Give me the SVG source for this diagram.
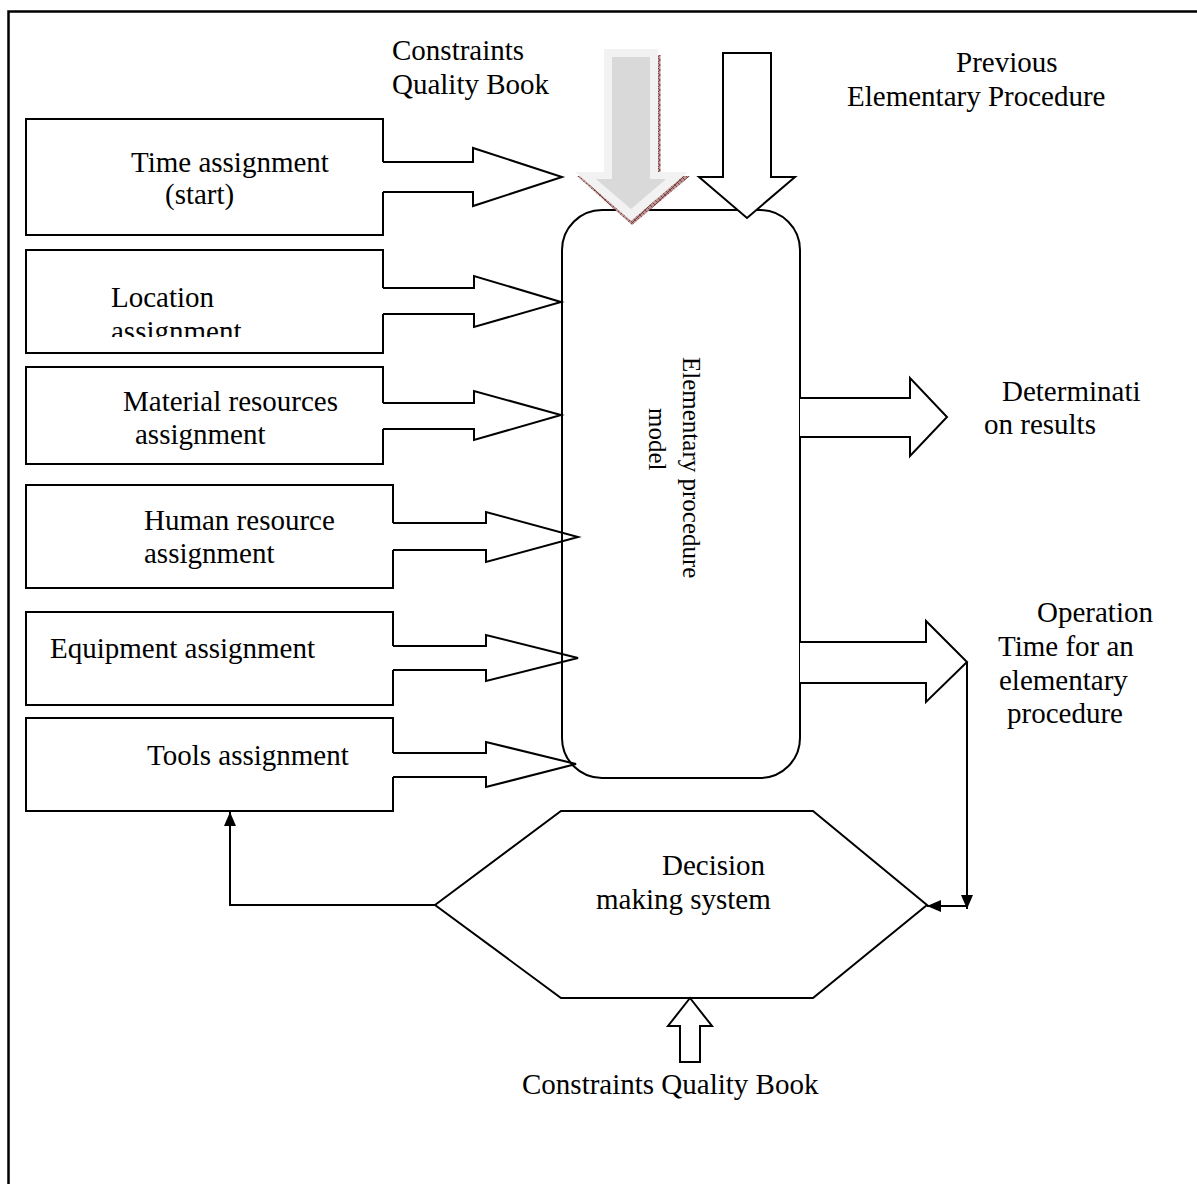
<svg xmlns="http://www.w3.org/2000/svg" width="1197" height="1184" viewBox="0 0 1197 1184">
<style>
  .t { font-family: "Liberation Serif", "Times New Roman", serif; font-size: 29px; fill: #000; }
  .tr { font-family: "Liberation Serif", "Times New Roman", serif; font-size: 25px; fill: #000; }
  .box { fill: #fff; stroke: #000; stroke-width: 2; }
  .arr { fill: none; stroke: #000; stroke-width: 2; stroke-linejoin: miter; }
  .warr { fill: #fff; stroke: #000; stroke-width: 2; }
  .ln { fill: none; stroke: #000; stroke-width: 2; }
</style>
<defs>
  <marker id="ah" viewBox="0 0 14 12" refX="14" refY="6" markerWidth="14" markerHeight="12" markerUnits="userSpaceOnUse" orient="auto">
    <path d="M0,0 L14,6 L0,12 Z" fill="#000"/>
  </marker>
  <pattern id="hatch" width="5" height="5" patternUnits="userSpaceOnUse">
    <rect width="5" height="5" fill="#b99292"/>
    <path d="M0,0 L5,5 M5,0 L0,5" stroke="#6e2e2e" stroke-width="0.8"/>
  </pattern>
  <clipPath id="clipLoc">
    <rect x="26" y="250" width="357" height="87"/>
  </clipPath>
</defs>
<rect width="1197" height="1184" fill="#fff"/>
<path d="M8.5,1184 V11.5 H1197" fill="none" stroke="#000" stroke-width="2.5"/>

<g id="model">
  <rect x="562" y="210" width="238" height="568" rx="40" ry="40" fill="#fff" stroke="#000" stroke-width="2"/>
  <text class="tr" transform="translate(683,357) rotate(90)">Elementary procedure</text>
  <text class="tr" transform="translate(649,408) rotate(90)">model</text>
</g>

<g id="time">
  <path class="box" d="M383,162 V119 H26 V235 H383 V192"/>
  <path class="arr" d="M383,162 H473 V148 L562,177 L473,206 V192 H383"/>
  <text class="t" x="131" y="172">Time assignment</text>
  <text class="t" x="165" y="204">(start)</text>
</g>

<g id="location">
  <path class="box" d="M383,288 V250 H26 V353 H383 V314"/>
  <path class="arr" d="M383,288 H474 V276 L561,302 L474,327 V314 H383"/>
  <text class="t" x="111" y="307">Location</text>
  <text class="t" x="111" y="341" clip-path="url(#clipLoc)">assignment</text>
</g>

<g id="material">
  <path class="box" d="M383,403 V367 H26 V464 H383 V429"/>
  <path class="arr" d="M383,403 H474 V391 L561,415 L474,440 V429 H383"/>
  <text class="t" x="123" y="411">Material resources</text>
  <text class="t" x="135" y="444">assignment</text>
</g>

<g id="human">
  <path class="box" d="M393,523 V485 H26 V588 H393 V550"/>
  <path class="arr" d="M393,523 H486 V512 L578,537 L486,562 V550 H393"/>
  <text class="t" x="144" y="530">Human resource</text>
  <text class="t" x="144" y="563">assignment</text>
</g>

<g id="equipment">
  <path class="box" d="M393,646 V612 H26 V705 H393 V670"/>
  <path class="arr" d="M393,646 H486 V635 L578,658 L486,681 V670 H393"/>
  <text class="t" x="50" y="658">Equipment assignment</text>
</g>

<g id="tools">
  <path class="box" d="M393,753 V718 H26 V811 H393 V777"/>
  <path class="arr" d="M393,753 H486 V742 L576,764 L486,787 V777 H393"/>
  <text class="t" x="147" y="765">Tools assignment</text>
</g>

<g id="constraints-top">
  <polygon points="605,55 660.5,55 660.5,176 690,176 632,225 577,176 605,176" fill="url(#hatch)"/>
  <polygon points="604,49 658,49 658,172 688,172 631,221 575,172 604,172" fill="#f2f2f2"/>
  <polygon points="612,57 650,57 650,179 666,179 631,209 596,179 612,179" fill="#d9d9d9"/>
  <text class="t" x="392" y="60">Constraints</text>
  <text class="t" x="392" y="94">Quality Book</text>
</g>

<g id="previous">
  <polygon class="warr" points="723,53 771,53 771,177 795,177 747,218 699,177 723,177"/>
  <text class="t" x="956" y="72">Previous</text>
  <text class="t" x="847" y="106">Elementary Procedure</text>
</g>

<g id="results">
  <path class="warr" d="M800,398 H910 V378 L947,417 L910,456 V437 H800"/>
  <text class="t" x="1002" y="401">Determinati</text>
  <text class="t" x="984" y="434">on results</text>
</g>

<g id="operation">
  <path class="warr" d="M800,642 H926 V621 L967,662 L926,702 V683 H800"/>
  <text class="t" x="1037" y="622">Operation</text>
  <text class="t" x="998" y="656">Time for an</text>
  <text class="t" x="999" y="690">elementary</text>
  <text class="t" x="1007" y="723">procedure</text>
</g>

<g id="decision">
  <polygon points="435,905 561,811 813,811 927,905 813,998 561,998" fill="#fff" stroke="#000" stroke-width="2"/>
  <text class="t" x="662" y="875">Decision</text>
  <text class="t" x="596" y="909">making system</text>
</g>

<g id="constraints-bottom">
  <polygon class="warr" points="680,1062 700,1062 700,1026 712,1026 690,998 668,1026 680,1026"/>
  <text class="t" x="522" y="1094">Constraints Quality Book</text>
</g>

<g id="connectors">
  <path class="ln" d="M967,662 V909" marker-end="url(#ah)"/>
  <path class="ln" d="M967,906 H927" marker-end="url(#ah)"/>
  <path class="ln" d="M435,905 H230 V812" marker-end="url(#ah)"/>
</g>
</svg>
